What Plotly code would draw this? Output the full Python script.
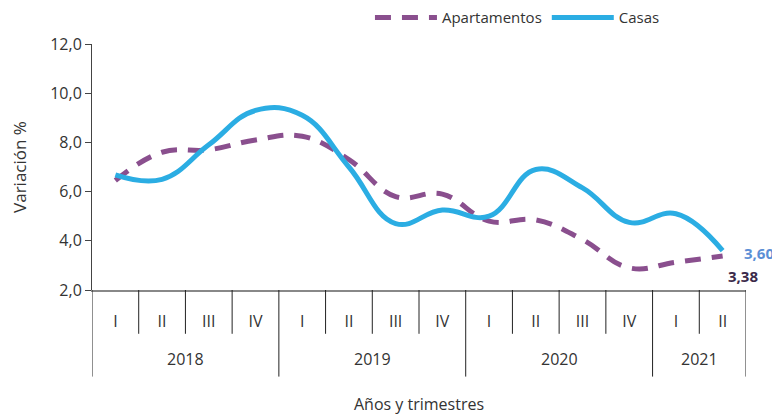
import plotly.graph_objects as go

year_labels = ["2018", "2019", "2020", "2021"]
year_counts = [4, 4, 4, 2]
quarters = ["I", "II", "III", "IV"] * 3 + ["I", "II"]

apartamentos = [6.45, 7.6, 7.7, 8.1, 8.25, 7.3, 5.8, 5.9, 4.8, 4.85, 4.05, 2.9, 3.13, 3.38]
casas = [6.68, 6.5, 7.9, 9.3, 9.1, 7.0, 4.7, 5.25, 5.0, 6.9, 6.15, 4.75, 5.1, 3.60]

purple = "#8A4F8E"
blue = "#2BADE3"
font = "Open Sans"
txt = "#333333"

xs = list(range(len(quarters)))

fig = go.Figure()
fig.add_trace(go.Scatter(
    x=xs, y=apartamentos, name="Apartamentos", mode="lines",
    line=dict(color=purple, width=5, dash="16px,11px", shape="spline", smoothing=1.2),
))
fig.add_trace(go.Scatter(
    x=xs, y=casas, name="Casas", mode="lines",
    line=dict(color=blue, width=5, shape="spline", smoothing=1.2),
))

# end-value labels
fig.add_annotation(x=xs[-1], xref="x", xshift=36, y=casas[-1], yref="y", yshift=-2,
                   text="<b>3,60</b>", showarrow=False, yanchor="middle",
                   font=dict(color="#5B8FD6", size=15, family=font))
fig.add_annotation(x=xs[-1], xref="x", xshift=20, y=apartamentos[-1], yref="y", yshift=-20,
                   text="<b>3,38</b>", showarrow=False, yanchor="middle",
                   font=dict(color="#3B2A4A", size=15, family=font))

# category separators and year labels
shapes = []
q_depth = -0.178
y_depth = -0.352
start = 0
bounds = set()
for yl, n in zip(year_labels, year_counts):
    end = start + n
    fig.add_annotation(x=(start + end - 1) / 2, xref="x", y=-0.28, yref="paper",
                       yanchor="middle", text=yl, showarrow=False,
                       font=dict(size=16, color=txt, family=font))
    bounds.add(start - 0.5)
    bounds.add(end - 0.5)
    start = end
for i in range(len(quarters) + 1):
    b = i - 0.5
    depth = y_depth if b in bounds else q_depth
    shapes.append(dict(type="line", xref="x", yref="paper", x0=b, x1=b, y0=0, y1=depth,
                       line=dict(color="#222222", width=1)))

fig.add_annotation(x=0.5, xref="paper", y=-0.465, yref="paper", yanchor="middle",
                   text="Años y trimestres", showarrow=False,
                   font=dict(size=16, color=txt, family=font))

fig.update_layout(
    width=772, height=407,
    margin=dict(l=84, r=34, t=35.5, b=124.5, autoexpand=False),
    plot_bgcolor="white", paper_bgcolor="white",
    separators=",.",
    font=dict(family=font, size=16, color=txt),
    shapes=shapes,
    showlegend=True,
    legend=dict(orientation="h", x=0.425, y=1.107, xanchor="left", yanchor="middle",
                itemwidth=62, tracegroupgap=0,
                font=dict(size=15, color=txt), bgcolor="rgba(0,0,0,0)"),
)
fig.update_yaxes(
    range=[2, 12], dtick=2, tickformat=".1f", showgrid=False,
    showline=True, linecolor="#444444", linewidth=1,
    ticks="outside", ticklen=6, tickcolor="#444444",
    title=dict(text="Variación %", font=dict(size=17), standoff=21),
    zeroline=False,
)
fig.update_xaxes(
    range=[-0.5, len(quarters) - 0.5], tickvals=xs, ticktext=quarters,
    showgrid=False, showline=True, linecolor="#888888", linewidth=2,
    ticks="", ticklabelstandoff=16, zeroline=False,
)

fig.write_html("out.html")
